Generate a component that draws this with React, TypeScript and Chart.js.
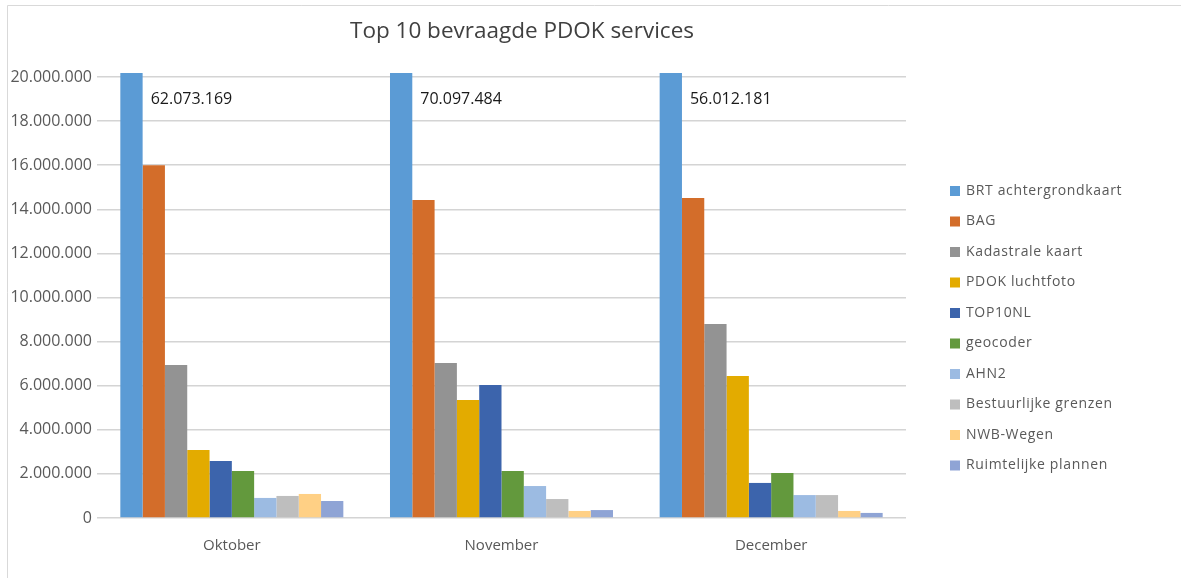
import React, { useEffect, useRef } from "react";
import { Chart, registerables } from "chart.js";

Chart.register(...registerables);

const months = ["Oktober", "November", "December"];
const seriesNames = [
  "BRT achtergrondkaart",
  "BAG",
  "Kadastrale kaart",
  "PDOK luchtfoto",
  "TOP10NL",
  "geocoder",
  "AHN2",
  "Bestuurlijke grenzen",
  "NWB-Wegen",
  "Ruimtelijke plannen",
];
const brtValues = [62073169, 70097484, 56012181];
const bagValues = [16000000, 14420000, 14510000];
const kadastraleValues = [6940000, 7030000, 8800000];
const luchtfotoValues = [3080000, 5350000, 6440000];
const top10nlValues = [2580000, 6030000, 1590000];
const geocoderValues = [2130000, 2130000, 2040000];
const ahn2Values = [910000, 1450000, 1040000];
const bestuurlijkeValues = [1000000, 860000, 1040000];
const nwbValues = [1090000, 320000, 320000];
const ruimtelijkeValues = [770000, 360000, 230000];
const seriesColors = [
  "#5B9BD5",
  "#D36D2A",
  "#939393",
  "#E3AB00",
  "#3C64AC",
  "#63993D",
  "#9CBBE2",
  "#BEBEBE",
  "#FFD085",
  "#8FA4D5",
];
const titleText = "Top 10 bevraagde PDOK services";
const yMax = 20000000;
const yStep = 2000000;

const allValues = [
  brtValues,
  bagValues,
  kadastraleValues,
  luchtfotoValues,
  top10nlValues,
  geocoderValues,
  ahn2Values,
  bestuurlijkeValues,
  nwbValues,
  ruimtelijkeValues,
];

const fmt = (v: number) =>
  Math.round(v)
    .toString()
    .replace(/\B(?=(\d{3})+(?!\d))/g, ".");

const FONT = "'Open Sans', 'Noto Sans', sans-serif";

const decorPlugin = {
  id: "decor",
  beforeDraw(chart: any) {
    const ctx = chart.ctx;
    ctx.save();
    ctx.fillStyle = "#ffffff";
    ctx.fillRect(0, 0, chart.width, chart.height);
    ctx.strokeStyle = "#d9d9d9";
    ctx.lineWidth = 1;
    ctx.beginPath();
    ctx.moveTo(7.5, chart.height + 10);
    ctx.lineTo(7.5, 5.5);
    ctx.lineTo(chart.width + 10, 5.5);
    ctx.stroke();
    ctx.restore();
  },
  afterDraw(chart: any) {
    const ctx = chart.ctx;
    ctx.save();
    // title
    ctx.fillStyle = "#404040";
    ctx.font = `22.5px ${FONT}`;
    ctx.textAlign = "center";
    ctx.textBaseline = "middle";
    ctx.fillText(titleText, 522, 32);
    // data labels for first series
    const meta = chart.getDatasetMeta(0);
    const area = chart.chartArea;
    ctx.fillStyle = "#1a1a1a";
    ctx.font = `16px ${FONT}`;
    ctx.textAlign = "left";
    meta.data.forEach((el: any, i: number) => {
      const v = chart.data.datasets[0].data[i];
      const props = el.getProps(["x", "width"], true);
      ctx.fillText(fmt(v), props.x + props.width / 2 + 8, area.top + 22);
    });
    // legend
    ctx.font = `14px ${FONT}`;
    ctx.textBaseline = "middle";
    try {
      (ctx as any).letterSpacing = "0.65px";
    } catch (e) {}
    chart.data.datasets.forEach((ds: any, i: number) => {
      const y = 191 + i * 30.5;
      ctx.fillStyle = ds.backgroundColor;
      ctx.fillRect(950, y - 5, 10, 10);
      ctx.fillStyle = "#595959";
      ctx.fillText(ds.label, 966, y);
    });
    ctx.restore();
  },
};

export default function App() {
  const ref = useRef<HTMLCanvasElement | null>(null);
  useEffect(() => {
    if (!ref.current) return;
    const chart = new Chart(ref.current, {
      type: "bar",
      data: {
        labels: months,
        datasets: seriesNames.map((name, i) => ({
          label: name,
          data: allValues[i],
          backgroundColor: seriesColors[i],
          borderWidth: 0,
          categoryPercentage: 0.827,
          barPercentage: 1,
          clip: { left: 0, right: 0, top: 4, bottom: 0 } as any,
        })),
      },
      options: {
        responsive: false,
        animation: false,
        devicePixelRatio: 1,
        layout: { padding: { left: 0, right: 275, top: 77, bottom: 0 } },
        plugins: {
          legend: { display: false },
          title: { display: false },
          tooltip: { enabled: false },
        },
        scales: {
          x: {
            grid: { display: false, drawTicks: false },
            border: { display: false },
            ticks: {
              color: "#595959",
              font: { family: FONT, size: 15 },
              padding: 19,
            },
            afterFit(scale: any) {
              scale.height = 60;
            },
          },
          y: {
            min: 0,
            max: yMax,
            grid: { color: "#d4d4d4", lineWidth: 1.5, drawTicks: false },
            border: { display: false },
            ticks: {
              stepSize: yStep,
              color: "#595959",
              font: { family: FONT, size: 16 },
              padding: 5,
              callback: (v: any) => fmt(Number(v)),
            },
            afterFit(scale: any) {
              scale.width = 97;
            },
          },
        },
      },
      plugins: [decorPlugin],
    });
    return () => chart.destroy();
  }, []);
  return (
    <div style={{ position: "fixed", left: 0, top: 0, width: 1181, height: 578, background: "#fff" }}>
      <canvas ref={ref} width={1181} height={578} style={{ display: "block" }} />
    </div>
  );
}
